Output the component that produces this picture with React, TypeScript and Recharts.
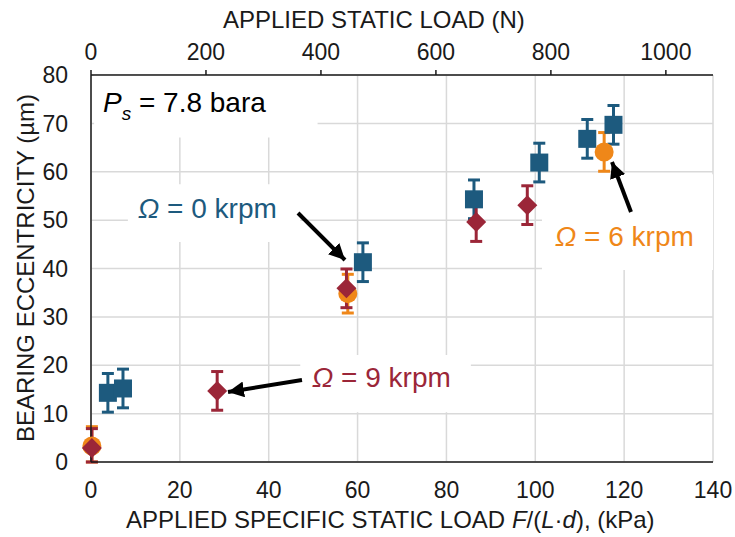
import React from "react";
import {
  ScatterChart,
  Scatter,
  XAxis,
  YAxis,
  CartesianGrid,
  ErrorBar,
  ReferenceArea,
} from "recharts";

// Ω = 0 krpm (blue squares)
const load0 = [3.8, 7.2, 61.2, 86.2, 100.9, 111.7, 117.6];
const ecc0 = [14.3, 15.2, 41.3, 54.3, 61.9, 66.8, 69.7];
const err0 = [4, 4, 4, 4, 4, 4, 4];

// Ω = 6 krpm (orange circles)
const load6 = [0.2, 57.8, 115.5];
const ecc6 = [3.3, 34.8, 64.1];
const err6 = [4, 4, 4];

// Ω = 9 krpm (red diamonds)
const load9 = [0.2, 28.4, 57.5, 86.7, 98.2];
const ecc9 = [2.9, 14.7, 35.9, 49.6, 53.1];
const err9 = [4, 4, 4, 4, 4];

const kpaTicks = [0, 20, 40, 60, 80, 100, 120, 140];
const newtonTicks = [0, 200, 400, 600, 800, 1000];
const newtonMax = 1082;
const eccTicks = [0, 10, 20, 30, 40, 50, 60, 70, 80];

const BLUE = "#1d5a7e";
const ORANGE = "#ef8719";
const RED = "#9b2638";
const FONT = "'Liberation Sans', Arial, sans-serif";

const toRows = (xs: number[], ys: number[], es: number[]) =>
  xs.map((x, i) => ({ x, y: ys[i], err: [Math.min(es[i], ys[i]), es[i]] }));

const rows0 = toRows(load0, ecc0, err0);
const rows6 = toRows(load6, ecc6, err6);
const rows9 = toRows(load9, ecc9, err9);
// invisible points so the top (N) axis gets drawn
const topRows = [0, newtonMax].map((x) => ({ x, y: 0 }));

const Square = (p: any) => (
  <rect x={p.cx - 9} y={p.cy - 9} width={18} height={18} fill={BLUE} />
);
const Dot = (p: any) => <circle cx={p.cx} cy={p.cy} r={9.5} fill={ORANGE} />;
const Diamond = (p: any) => (
  <polygon
    points={`${p.cx},${p.cy - 10} ${p.cx + 10},${p.cy} ${p.cx},${p.cy + 10} ${p.cx - 10},${p.cy}`}
    fill={RED}
  />
);
const Nothing = () => <g />;

const tickStyle = { fontSize: 23, fill: "#1a1a1a", fontFamily: FONT };

export default function App() {
  return (
    <div style={{ position: "relative", width: 735, height: 537, background: "#fff" }}>
      <style>{`body{margin:0}`}</style>
      <ScatterChart
        width={735}
        height={537}
        margin={{ top: 45, right: 22, bottom: 45, left: 31 }}
      >
        <CartesianGrid stroke="#d9d9d9" strokeWidth={1.5} />
        <XAxis
          type="number"
          dataKey="x"
          domain={[0, 140]}
          ticks={kpaTicks}
          height={30}
          tickLine={false}
          tickMargin={14}
          axisLine={{ stroke: "#1a1a1a", strokeWidth: 1.5 }}
          tick={tickStyle}
        />
        <XAxis
          xAxisId="top"
          orientation="top"
          type="number"
          dataKey="x"
          domain={[0, newtonMax]}
          allowDataOverflow
          ticks={newtonTicks}
          height={30}
          tickSize={5}
          tickMargin={10}
          axisLine={{ stroke: "#1a1a1a", strokeWidth: 1.5 }}
          tickLine={{ stroke: "#1a1a1a", strokeWidth: 1.5 }}
          tick={tickStyle}
        />
        <YAxis
          type="number"
          dataKey="y"
          domain={[0, 80]}
          ticks={eccTicks}
          width={60}
          tickLine={false}
          tickMargin={17}
          axisLine={{ stroke: "#1a1a1a", strokeWidth: 1.5 }}
          tick={tickStyle}
        />
        <ReferenceArea x1={0.7} x2={51} y1={67.1} y2={80} fill="#fff" fillOpacity={1} stroke="none" />
        <ReferenceArea x1={8.3} x2={47.1} y1={45.5} y2={57.4} fill="#fff" fillOpacity={1} stroke="none" />
        <ReferenceArea x1={47.1} x2={85.5} y1={10.3} y2={22.1} fill="#fff" fillOpacity={1} stroke="none" />
        <ReferenceArea x1={101.5} x2={140} y1={39.7} y2={59.5} fill="#fff" fillOpacity={1} stroke="none" />
        <Scatter data={topRows} xAxisId="top" shape={Nothing} isAnimationActive={false} />
        <Scatter data={rows0} shape={Square} isAnimationActive={false}>
          <ErrorBar dataKey="err" direction="y" width={6} strokeWidth={3} stroke={BLUE} />
        </Scatter>
        <Scatter data={rows6} shape={Dot} isAnimationActive={false}>
          <ErrorBar dataKey="err" direction="y" width={6} strokeWidth={3} stroke={ORANGE} />
        </Scatter>
        <Scatter data={rows9} shape={Diamond} isAnimationActive={false}>
          <ErrorBar dataKey="err" direction="y" width={6} strokeWidth={3} stroke={RED} />
        </Scatter>
      </ScatterChart>

      <svg
        width={735}
        height={537}
        style={{ position: "absolute", left: 0, top: 0, pointerEvents: "none" }}
        fontFamily={FONT}
      >
        <defs>
          <marker id="head" markerWidth="4" markerHeight="4" refX="4" refY="2" orient="auto" markerUnits="strokeWidth">
            <path d="M0,0 L4,2 L0,4 z" fill="#000" />
          </marker>
        </defs>
        <text x={223} y={28} fontSize={24} fill="#1a1a1a">
          APPLIED STATIC LOAD (N)
        </text>
        <text x={126} y={528} fontSize={24} fill="#1a1a1a">
          APPLIED SPECIFIC STATIC LOAD <tspan fontStyle="italic">F</tspan>/(<tspan fontStyle="italic">L</tspan>·<tspan fontStyle="italic">d</tspan>), (kPa)
        </text>
        <text
          transform="translate(34,268) rotate(-90)"
          textAnchor="middle"
          fontSize={24}
          fill="#1a1a1a"
        >
          BEARING ECCENTRICITY (µm)
        </text>

        <text x={103} y={112} fontSize={28} fill="#000">
          <tspan fontStyle="italic">P</tspan>
          <tspan fontStyle="italic" fontSize={19} dy={8}>s</tspan>
          <tspan dy={-8}> = 7.8 bara</tspan>
        </text>
        <text x={138} y={218} fontSize={28} fill={BLUE}>
          <tspan fontStyle="italic">Ω</tspan> = 0 krpm
        </text>
        <text x={312} y={387} fontSize={28} fill={RED}>
          <tspan fontStyle="italic">Ω</tspan> = 9 krpm
        </text>
        <text x={555} y={246} fontSize={28} fill={ORANGE}>
          <tspan fontStyle="italic">Ω</tspan> = 6 krpm
        </text>

        <line x1={298} y1={213} x2={345} y2={260} stroke="#000" strokeWidth={4} markerEnd="url(#head)" />
        <line x1={302} y1={380} x2={228} y2={392} stroke="#000" strokeWidth={4} markerEnd="url(#head)" />
        <line x1={631} y1={212} x2={612} y2={162} stroke="#000" strokeWidth={4} markerEnd="url(#head)" />
      </svg>
    </div>
  );
}
